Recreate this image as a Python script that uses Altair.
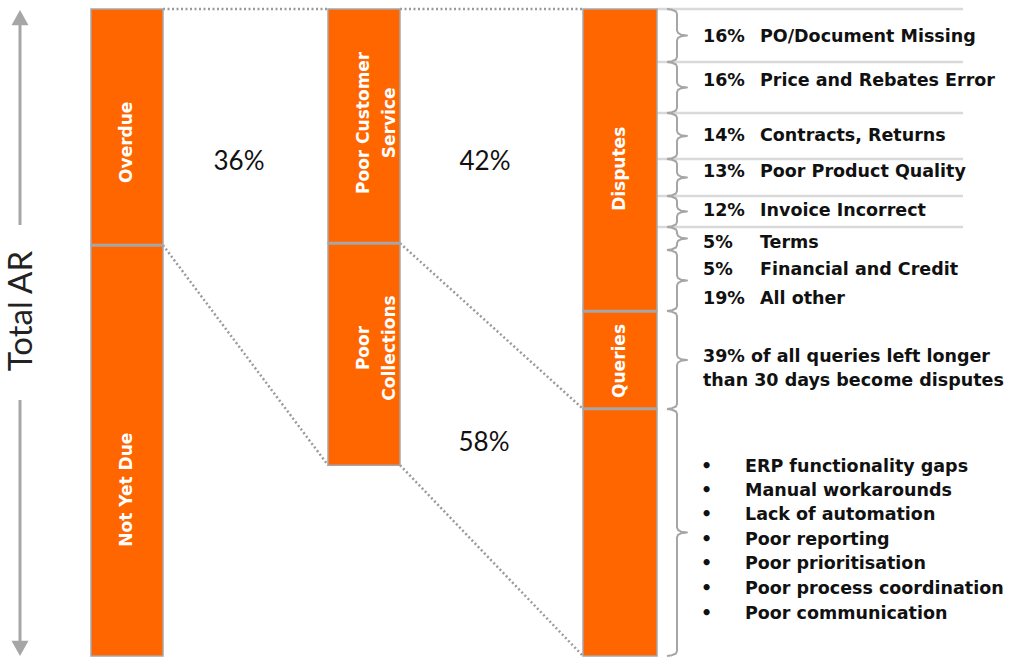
import altair as alt
import pandas as pd

# ---------------- data (shares read as % of total AR, top-down) ----------------
col1_labels = ["Overdue", "Not Yet Due"]
col1_sizes = [36.5, 63.5]
col2_labels = ["Poor Customer\nService", "Poor\nCollections"]
col2_sizes = [36.2, 34.3]
col3_labels = ["Disputes", "Queries", ""]
col3_sizes = [46.7, 15.1, 38.2]

flow_pcts = ["36%", "42%", "58%"]

dispute_pcts = ["16%", "16%", "14%", "13%", "12%", "5%", "5%", "19%"]
dispute_reasons = ["PO/Document Missing", "Price and Rebates Error", "Contracts, Returns",
                   "Poor Product Quality", "Invoice Incorrect", "Terms",
                   "Financial and Credit", "All other"]
# brace edges along the Disputes / Queries / rest column (% of total AR)
brace_edges = [0, 8.19, 16.07, 23.18, 28.90, 33.69, 37.25, 46.68, 61.82, 100]
n_separators = 6  # light grey lines drawn at the first edges

queries_note = ["39% of all queries left longer", "than 30 days become disputes"]
root_causes = ["ERP functionality gaps", "Manual workarounds", "Lack of automation",
               "Poor reporting", "Poor prioritisation", "Poor process coordination",
               "Poor communication"]
axis_title = "Total AR"

# ---------------- layout ----------------
W, H = 1010, 657
PX = 6.47                      # pixels per % of total AR
Y0, Y1 = -9 / PX, (H - 9) / PX
COL_X = [(91, 163), (328, 400), (583, 657)]
LABEL_Y = [[20.6, 74.3], [17.6, 52.4], [24.7, 54.4, None]]
FLOW_POS = [(239, 23.65), (485, 23.65), (484, 67.08)]
ROW_Y = [4.33, 11.13, 19.63, 25.19, 31.22, 36.17, 40.34, 44.82]
NOTE_Y = [53.8, 57.5]
BULLET_Y = [70.8, 74.5, 78.2, 82.1, 85.8, 89.6, 93.5]

ORANGE = "#FF6600"
GREY = "#A6A6A6"
DOT = "#9A9A9A"
LIGHT = "#D9D9D9"
FONT = "DejaVu Sans"
TXT = 17.5

xs = alt.Scale(domain=[0, W], nice=False, zero=False)
ys = alt.Scale(domain=[Y0, Y1], reverse=True, nice=False, zero=False)


def X(f="x"):
    return alt.X(f"{f}:Q", scale=xs, axis=None)


def Y(f="y"):
    return alt.Y(f"{f}:Q", scale=ys, axis=None)


# bars
bar_rows, bound_rows = [], []
for (xa, xb), labels, sizes, lys in zip(COL_X, [col1_labels, col2_labels, col3_labels],
                                       [col1_sizes, col2_sizes, col3_sizes], LABEL_Y):
    top = 0.0
    for i, (lab, s, ly) in enumerate(zip(labels, sizes, lys)):
        bar_rows.append(dict(x=xa, x2=xb, y=top, y2=top + s, label=lab,
                             lx=(xa + xb) / 2, ly=ly if ly is not None else top + s / 2))
        top += s
        if i < len(sizes) - 1:
            bound_rows.append(dict(x=xa, x2=xb, y=top))
bars_df = pd.DataFrame(bar_rows)
bounds_df = pd.DataFrame(bound_rows)


def ends(sizes):
    out, t = [], 0.0
    for s in sizes:
        t += s
        out.append(t)
    return out


e1, e2, e3 = ends(col1_sizes), ends(col2_sizes), ends(col3_sizes)
conn_df = pd.DataFrame([
    dict(x=COL_X[0][1], y=0, x2=COL_X[1][0], y2=0),
    dict(x=COL_X[1][1], y=0, x2=COL_X[2][0], y2=0),
    dict(x=COL_X[0][1], y=e1[0], x2=COL_X[1][0], y2=e2[1]),
    dict(x=COL_X[1][1], y=e2[0], x2=COL_X[2][0], y2=e3[1]),
    dict(x=COL_X[1][1], y=e2[1], x2=COL_X[2][0], y2=e3[2]),
])

sep_df = pd.DataFrame([dict(x=657, x2=963, y=e) for e in brace_edges[:n_separators]])

# braces
XL, XV, XP = 667, 677, 687
brace_rows = []
for b, (a, c) in enumerate(zip(brace_edges[:-1], brace_edges[1:])):
    m = (a + c) / 2
    pts = [(XL, a), (XL + 5, a + 0.8 / PX), (XV - 1, a + 2.5 / PX), (XV, a + 5 / PX),
           (XV, m - 5 / PX), (XV + 1, m - 2.5 / PX), (XV + 4, m - 0.8 / PX), (XP, m),
           (XV + 4, m + 0.8 / PX), (XV + 1, m + 2.5 / PX), (XV, m + 5 / PX),
           (XV, c - 5 / PX), (XV - 1, c - 2.5 / PX), (XL + 5, c - 0.8 / PX), (XL, c)]
    for k, (px, py) in enumerate(pts):
        brace_rows.append(dict(b=b, k=k, x=px, y=py))
brace_df = pd.DataFrame(brace_rows)

# ---------------- layers ----------------
seps = alt.Chart(sep_df).mark_rule(color=LIGHT, strokeWidth=2.5).encode(
    x=X(), x2="x2:Q", y=Y())

bars = alt.Chart(bars_df).mark_rect(fill=ORANGE, stroke=GREY, strokeWidth=1.5).encode(
    x=X(), x2="x2:Q", y=Y(), y2="y2:Q")

bounds = alt.Chart(bounds_df).mark_rule(color=GREY, strokeWidth=3).encode(
    x=X(), x2="x2:Q", y=Y())

conns = alt.Chart(conn_df).mark_rule(color=DOT, strokeWidth=2.5, strokeDash=[2, 2.5]).encode(
    x=X(), x2="x2:Q", y=Y(), y2="y2:Q")

bar_text = alt.Chart(bars_df).mark_text(
    angle=270, color="white", font=FONT, fontWeight="bold", fontSize=17,
    lineBreak="\n", lineHeight=26, align="center", baseline="middle").encode(
    x=X("lx"), y=Y("ly"), text="label:N")

flow_df = pd.DataFrame(dict(t=flow_pcts, x=[p[0] for p in FLOW_POS], y=[p[1] for p in FLOW_POS]))
flow_text = alt.Chart(flow_df).mark_text(
    font="Lato", fontSize=26, color="#111111", align="center", baseline="middle").encode(
    x=X(), y=Y(), text="t:N")

braces = alt.Chart(brace_df).mark_line(color=GREY, strokeWidth=2, strokeJoin="round").encode(
    x=X(), y=Y(), detail="b:N", order="k:Q")

rows_df = pd.DataFrame(dict(p=dispute_pcts, r=dispute_reasons, y=ROW_Y))
pct_text = alt.Chart(rows_df).mark_text(
    font=FONT, fontWeight="bold", fontSize=TXT, color="#111111", align="left",
    baseline="middle").encode(x=alt.value(703), y=Y(), text="p:N")
reason_text = alt.Chart(rows_df).mark_text(
    font=FONT, fontWeight="bold", fontSize=TXT, color="#111111", align="left",
    baseline="middle").encode(x=alt.value(760), y=Y(), text="r:N")

note_df = pd.DataFrame(dict(t=queries_note, y=NOTE_Y))
note_text = alt.Chart(note_df).mark_text(
    font=FONT, fontWeight="bold", fontSize=TXT, color="#111111", align="left",
    baseline="middle").encode(x=alt.value(703), y=Y(), text="t:N")

cause_df = pd.DataFrame(dict(t=root_causes, y=BULLET_Y, dot=["•"] * len(root_causes)))
bullet_text = alt.Chart(cause_df).mark_text(
    font=FONT, fontWeight="bold", fontSize=TXT, color="#111111", align="left",
    baseline="middle").encode(x=alt.value(701), y=Y(), text="dot:N")
cause_text = alt.Chart(cause_df).mark_text(
    font=FONT, fontWeight="bold", fontSize=TXT, color="#111111", align="left",
    baseline="middle").encode(x=alt.value(745), y=Y(), text="t:N")

# left axis arrow
arrow_df = pd.DataFrame([dict(x=20, y=(25 - 9) / PX, y2=(225 - 9) / PX),
                         dict(x=20, y=(400 - 9) / PX, y2=(641 - 9) / PX)])
arrow_lines = alt.Chart(arrow_df).mark_rule(color=GREY, strokeWidth=3).encode(
    x=X(), y=Y(), y2="y2:Q")
heads_df = pd.DataFrame([dict(x=20, y=(18.5 - 9) / PX, s="M0,-1L1,0.8L-1,0.8Z"),
                         dict(x=20, y=(647.5 - 9) / PX, s="M0,1L1,-0.8L-1,-0.8Z")])
heads = alt.Chart(heads_df).mark_point(filled=True, color=GREY, opacity=1, size=289).encode(
    x=X(), y=Y(), shape=alt.Shape("s:N", scale=None))
title_df = pd.DataFrame(dict(t=[axis_title], x=[22], y=[(311 - 9) / PX]))
title_text = alt.Chart(title_df).mark_text(
    angle=270, font="Lato", fontSize=33, color="#222222", align="center",
    baseline="middle").encode(x=X(), y=Y(), text="t:N")

chart = alt.layer(
    seps, conns, bars, bounds, bar_text, flow_text, braces, pct_text, reason_text,
    note_text, bullet_text, cause_text, arrow_lines, heads, title_text
).properties(
    width=W, height=H, padding=0, autosize=alt.AutoSizeParams(type="none"),
    background="white"
).configure_view(stroke=None)

chart.save("out.html", embed_options={"renderer": "svg", "actions": False})
